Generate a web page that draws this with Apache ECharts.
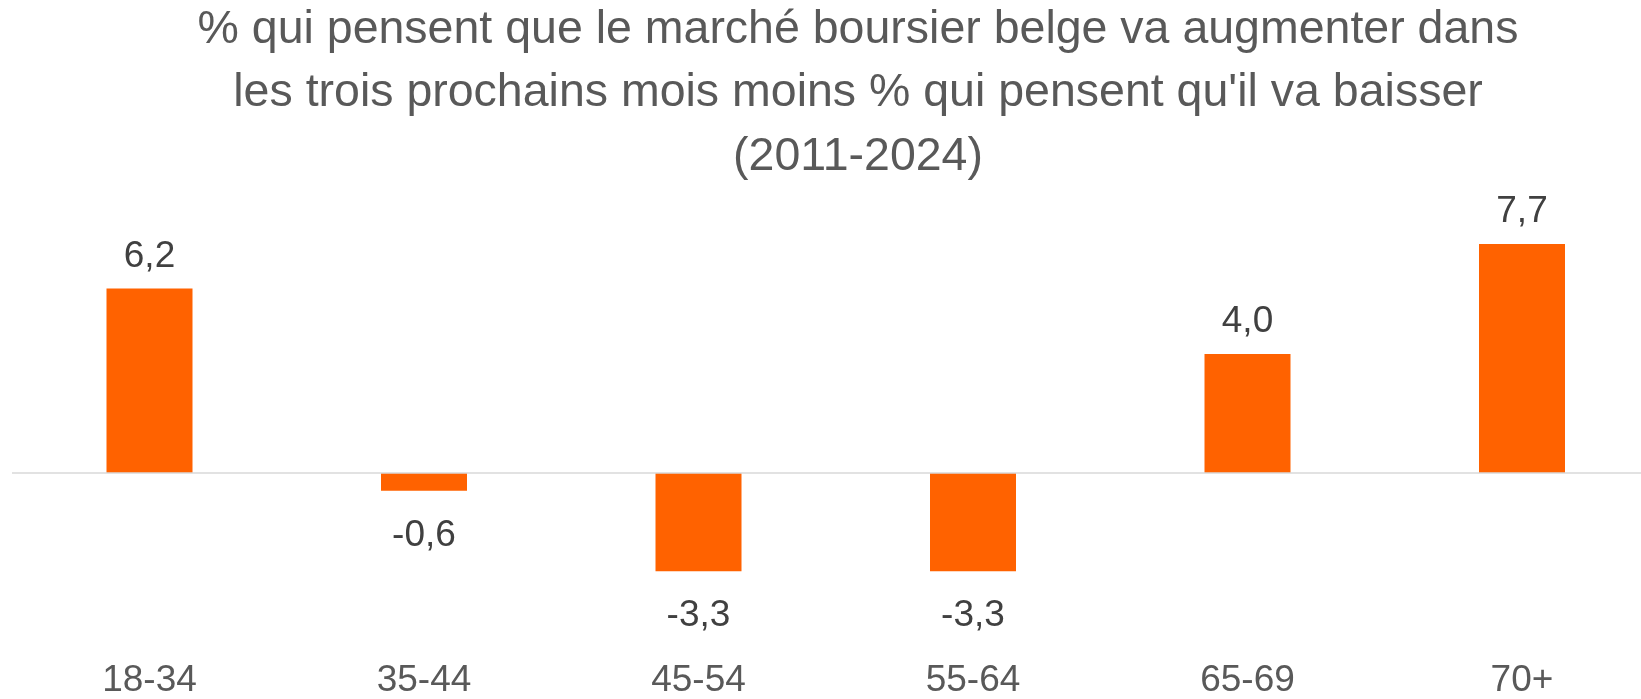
<!DOCTYPE html>
<html>
<head>
<meta charset="utf-8">
<script src="https://cdn.jsdelivr.net/npm/echarts@6/dist/echarts.min.js"></script>
<style>
html,body{margin:0;padding:0;background:#fff;}
#chart{width:1641px;height:699px;}
</style>
</head>
<body>
<div id="chart"></div>
<script>
const titleText = "% qui pensent que le marché boursier belge va augmenter dans\nles trois prochains mois moins % qui pensent qu'il va baisser\n(2011-2024)";
const categories = ["18-34", "35-44", "45-54", "55-64", "65-69", "70+"];
const values = [6.2, -0.6, -3.3, -3.3, 4.0, 7.7];

const FONT = "Liberation Sans";
const chart = echarts.init(document.getElementById('chart'), null, {renderer: 'canvas'});

const seriesData = values.map(v => ({
  value: v,
  label: v >= 0 ? {position: 'top', distance: 13.5} : {position: 'bottom', distance: 26}
}));

chart.setOption({
  animation: false,
  backgroundColor: '#ffffff',
  title: {
    text: titleText,
    left: 858,
    top: -2,
    textAlign: 'center',
    padding: 0,
    textStyle: {
      fontFamily: FONT,
      fontSize: 46.5,
      fontWeight: 'normal',
      color: '#595959',
      lineHeight: 63.5
    }
  },
  grid: {left: 149.5, top: 235, right: 119, height: 362, containLabel: false},
  xAxis: {
    type: 'category',
    data: categories,
    boundaryGap: false,
    axisLine: {show: false, onZero: false},
    axisTick: {show: false},
    axisLabel: {
      margin: 70,
      fontFamily: FONT,
      fontSize: 37,
      color: '#595959'
    },
    splitLine: {show: false}
  },
  yAxis: {
    type: 'value',
    min: -4,
    max: 8,
    interval: 2,
    show: false,
    splitLine: {show: false}
  },
  series: [{
    type: 'bar',
    data: seriesData,
    barWidth: 86,
    clip: false,
    itemStyle: {color: '#FF6200'},
    label: {
      show: true,
      fontFamily: FONT,
      fontSize: 37,
      color: '#404040',
      formatter: p => p.value.toFixed(1).replace('.', ',')
    },
    markLine: {
      silent: true,
      symbol: 'none',
      label: {show: false},
      lineStyle: {color: '#d9d9d9', width: 1.5, type: 'solid'},
      data: [[{yAxis: 0, x: 12}, {yAxis: 0, x: '100%'}]]
    }
  }]
});
</script>
</body>
</html>
